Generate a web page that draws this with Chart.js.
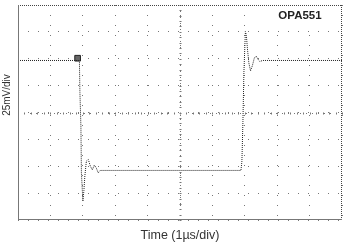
<!DOCTYPE html>
<html>
<head>
<meta charset="utf-8">
<script src="https://cdn.jsdelivr.net/npm/chart.js@4.4.0/dist/chart.umd.min.js"></script>
<style>
  html, body { margin: 0; padding: 0; background: #fff; }
  .chart-parent { position: relative; width: 347px; height: 243px; }
</style>
</head>
<body>
<div class="chart-parent">
  <canvas id="myChart"></canvas>
</div>
<script>
// scope trace, time in us (1us/div), amplitude in mV (25mV/div)
const timeUs = [0, 1.865, 1.896, 1.911, 1.942, 1.957, 2.003, 2.034, 2.064, 2.11, 2.171, 2.232, 2.294, 2.355, 2.416, 2.477, 2.538,
  6.881, 6.911, 6.942, 6.972, 7.018, 7.049, 7.08, 7.125, 7.177, 7.232, 7.294, 7.349, 7.401, 7.462, 7.554, 10];
const voltMv = [48.4, 48.4, 47.0, 18.7, -13.2, -56.2, -82.6, -72.6, -58.9, -45.2, -43.8, -49.8, -53.4, -48.9, -51.6, -56.2, -53.9,
  -53.9, -45.2, -8.7, 37.0, 75.3, 71.7, 59.8, 46.1, 38.8, 43.4, 50.7, 52.5, 49.8, 47.5, 48.4, 48.4];
const triggerUs = [1.84];
const triggerMv = [50.5];
const xTicks = [0, 1, 2, 3, 4, 5, 6, 7, 8, 9, 10];
const yTicks = [-100, -75, -50, -25, 0, 25, 50, 75, 100];
const deviceLabel = 'OPA551';
const xTitle = 'Time (1\u00b5s/div)';
const yTitle = '25mV/div';

const scopeExtras = {
  id: 'scopeExtras',
  beforeDatasetsDraw(chart) {
    const { ctx, chartArea: a, scales: { x, y } } = chart;
    ctx.save();
    // centre cross, a bit denser with small ticks
    ctx.strokeStyle = '#777';
    ctx.lineWidth = 1;
    const cx = Math.round(x.getPixelForValue(5)) + 0.5;
    const cy = Math.round(y.getPixelForValue(0)) + 0.5;
    ctx.setLineDash([1, 5]);
    ctx.beginPath();
    ctx.moveTo(cx, a.top); ctx.lineTo(cx, a.bottom);
    ctx.moveTo(a.left, cy); ctx.lineTo(a.right, cy);
    ctx.stroke();
    ctx.setLineDash([]);
    ctx.beginPath();
    for (let v = 0; v <= 10; v += 0.2) {
      const px = Math.round(x.getPixelForValue(v)) + 0.5;
      ctx.moveTo(px, cy - 1); ctx.lineTo(px, cy + 1);
    }
    for (let v = -100; v <= 100; v += 5) {
      const py = Math.round(y.getPixelForValue(v)) + 0.5;
      ctx.moveTo(cx - 1, py); ctx.lineTo(cx + 1, py);
    }
    ctx.stroke();
    // label box
    ctx.fillStyle = '#fff';
    ctx.fillRect(268, 4, a.right - 271, 25);
    ctx.fillStyle = '#222';
    ctx.font = 'bold 11.5px "Liberation Sans", Arial, sans-serif';
    ctx.textAlign = 'center';
    ctx.textBaseline = 'middle';
    ctx.fillText(deviceLabel, 300, 16);
    // axis titles
    ctx.fillStyle = '#333';
    ctx.font = '12.5px "Liberation Sans", Arial, sans-serif';
    ctx.fillText(xTitle, (a.left + a.right) / 2, 236);
    ctx.translate(7, 95);
    ctx.rotate(-Math.PI / 2);
    ctx.font = '10px "Liberation Sans", Arial, sans-serif';
    ctx.fillText(yTitle, 0, 0);
    ctx.restore();
  },
  afterDraw(chart) {
    const { ctx, chartArea: a } = chart;
    ctx.save();
    ctx.lineWidth = 1;
    ctx.strokeStyle = '#444';
    ctx.setLineDash([1, 1]);
    ctx.beginPath();
    ctx.moveTo(a.left, a.top + 0.5); ctx.lineTo(a.right, a.top + 0.5);
    ctx.moveTo(a.right - 0.5, a.top); ctx.lineTo(a.right - 0.5, a.bottom);
    ctx.stroke();
    ctx.setLineDash([]);
    ctx.strokeStyle = '#777';
    ctx.beginPath();
    ctx.moveTo(a.left + 0.5, a.top); ctx.lineTo(a.left + 0.5, a.bottom);
    ctx.moveTo(a.left, a.bottom - 0.5); ctx.lineTo(a.right, a.bottom - 0.5);
    ctx.stroke();
    ctx.restore();
  }
};

const ctx = document.getElementById('myChart');
const myChart = new Chart(ctx, {
  type: 'scatter',
  data: {
    datasets: [
      {
        label: 'Output',
        data: timeUs.map((t, i) => ({ x: t, y: voltMv[i] })),
        showLine: true,
        borderColor: '#222',
        borderWidth: 1,
        borderDash: [1, 1],
        pointRadius: 0,
        tension: 0,
      },
      {
        label: 'Trigger',
        data: triggerUs.map((t, i) => ({ x: t, y: triggerMv[i] })),
        pointStyle: 'rect',
        pointRadius: 4,
        backgroundColor: '#666',
        borderColor: '#222',
        borderWidth: 1,
      },
    ],
  },
  options: {
    responsive: true,
    maintainAspectRatio: false,
    animation: false,
    layout: { padding: { left: 18, top: 1, right: 2, bottom: 23 } },
    plugins: { legend: { display: false }, tooltip: { enabled: false } },
    scales: {
      x: {
        type: 'linear', min: 0, max: 10,
        afterBuildTicks: (s) => { s.ticks = xTicks.map(v => ({ value: v })); },
        ticks: { display: false },
        grid: { color: '#777', lineWidth: 1, drawTicks: false },
        border: { display: false, dash: [1, 9] },
      },
      y: {
        type: 'linear', min: -100, max: 100,
        afterBuildTicks: (s) => { s.ticks = yTicks.map(v => ({ value: v })); },
        ticks: { display: false },
        grid: { color: '#777', lineWidth: 1, drawTicks: false },
        border: { display: false, dash: [1, 9] },
      },
    },
  },
  plugins: [scopeExtras],
});
</script>
</body>
</html>
